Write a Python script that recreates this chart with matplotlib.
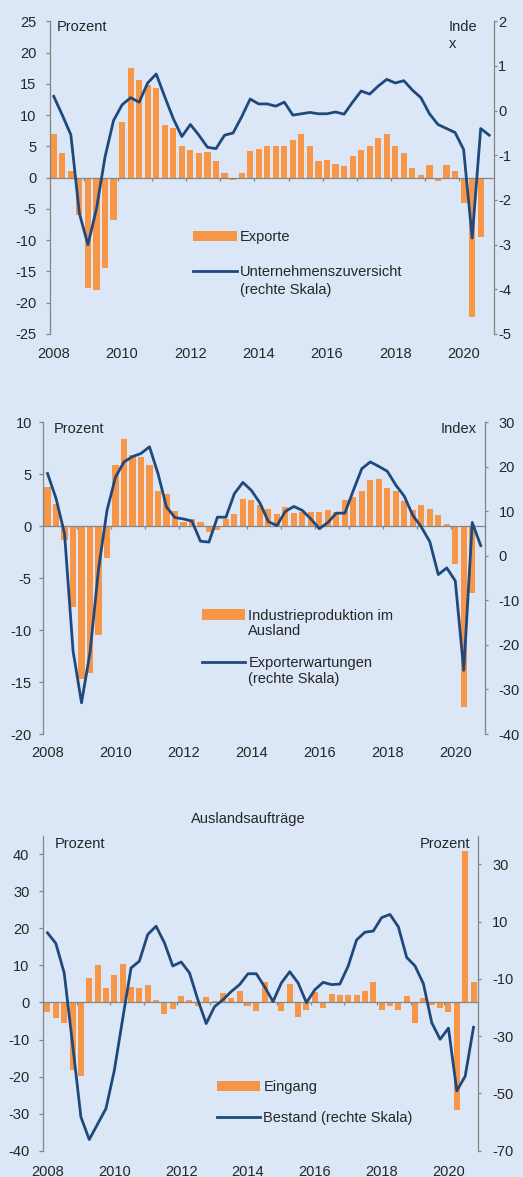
import numpy as np
import matplotlib
matplotlib.use('Agg')
import matplotlib.pyplot as plt
from matplotlib.lines import Line2D
from matplotlib.legend import Legend

plt.rcParams['font.family'] = ['Liberation Sans', 'DejaVu Sans']
plt.rcParams['axes.unicode_minus'] = False

W, H = 523, 1177
BG = '#dbe7f6'
ORANGE = '#f79646'
NAVY = '#1f497d'
GREY = '#868686'
TXT = '#262626'
FS = 10.5

# quarterly data, 2008 Q1 .. 2020 Q4 (52 quarters)
years = ['2008', '2010', '2012', '2014', '2016', '2018', '2020']

# panel 1: Exporte (%), Unternehmenszuversicht (index, right axis)
exporte = [7.0, 3.9, 1.0, -6.0, -17.6, -17.9, -14.5, -6.7, 8.9, 17.6,
           15.6, 14.8, 14.4, 8.4, 7.9, 5.1, 4.4, 3.9, 4.1, 2.7,
           0.7, -0.3, 0.8, 4.3, 4.6, 5.0, 5.1, 5.1, 6.0, 7.0,
           5.0, 2.7, 2.9, 2.2, 1.9, 3.4, 4.4, 5.0, 6.3, 7.0,
           5.1, 3.9, 1.6, 0.5, 2.0, -0.6, 2.0, 1.1, -4.0, -22.3,
           -9.5]
zuversicht = [0.32, -0.10, -0.54, -2.3, -3.0, -2.2, -1.04, -0.22, 0.13, 0.29,
              0.19, 0.62, 0.82, 0.31, -0.18, -0.58, -0.31, -0.55, -0.82, -0.85,
              -0.55, -0.50, -0.14, 0.26, 0.15, 0.15, 0.10, 0.19, -0.10, -0.07,
              -0.04, -0.07, -0.07, -0.03, -0.08, 0.19, 0.44, 0.37, 0.55, 0.70,
              0.62, 0.67, 0.46, 0.29, -0.07, -0.31, -0.40, -0.49, -0.87, -2.85,
              -0.40, -0.55]

# panel 2: Industrieproduktion im Ausland (%), Exporterwartungen (index)
ind_prod = [3.8, 2.1, -1.3, -7.8, -14.7, -14.1, -10.5, -3.1, 5.9, 8.4,
            6.9, 6.7, 5.9, 3.4, 3.1, 1.5, 0.4, 0.65, 0.4, -0.6,
            -0.4, 0.7, 1.2, 2.6, 2.5, 2.0, 1.7, 1.2, 1.8, 1.3,
            1.35, 1.35, 1.35, 1.6, 1.35, 2.5, 2.8, 3.35, 4.4, 4.5,
            3.7, 3.35, 2.4, 1.6, 2.0, 1.7, 1.1, 0.25, -3.6, -17.4,
            -6.4]
exp_erw = [18.5, 12.9, 5.0, -21.3, -33.0, -21.7, -3.0, 10.2, 17.7, 21.1,
           22.3, 23.0, 24.5, 18.5, 11.0, 8.6, 8.3, 7.8, 3.3, 3.1,
           8.7, 8.7, 14.0, 16.5, 14.7, 11.9, 7.7, 6.8, 10.0, 11.1,
           10.2, 8.3, 6.1, 7.5, 9.6, 9.6, 14.7, 19.6, 21.1, 20.1,
           19.0, 15.9, 13.4, 9.1, 6.5, 3.2, -4.2, -2.7, -5.6, -25.7,
           7.5, 2.3]

# panel 3: Auslandsauftraege Eingang (%), Bestand (%, right axis)
eingang = [-2.5, -4.1, -5.5, -18.1, -19.9, 6.6, 10.2, 3.8, 7.5, 10.4,
           4.3, 3.8, 4.7, 0.8, -3.2, -1.8, 1.7, 0.8, -1.0, 1.35,
           0.3, 2.6, 1.1, 3.1, -0.9, -2.3, 5.5, 0.3, -2.3, 5.1,
           -3.9, -2.0, 2.9, -1.6, 2.4, 2.0, 2.0, 2.0, 3.1, 5.5,
           -2.0, -1.0, -2.0, 1.7, -5.5, 1.3, -0.7, -1.4, -2.5, -29.0,
           41.0, 5.5]
bestand = [6.1, 2.4, -7.9, -32.7, -58.2, -66.1, -60.7, -55.3, -42.0, -24.0,
           -6.2, -3.8, 5.5, 8.4, 2.6, -5.5, -4.1, -7.9, -17.3, -25.6,
           -19.7, -17.3, -14.4, -12.0, -8.2, -8.2, -12.8, -17.9, -11.4, -7.5,
           -11.4, -18.3, -13.8, -11.2, -12.0, -11.8, -5.5, 3.6, 6.3, 6.7,
           11.4, 12.5, 8.2, -2.5, -5.5, -11.7, -25.3, -31.1, -27.2, -49.1,
           -44.0, -26.9]

N_Q = 52

fig = plt.figure(figsize=(W / 100, H / 100), dpi=100, facecolor=BG)


def px(x, y):
    return x / W, 1 - y / H


def panel(rect, bars, line, ylim_l, yt_l, ylim_r, yt_r, pads):
    l, t, r, b = rect
    ax = fig.add_axes([l / W, 1 - b / H, (r - l) / W, (b - t) / H])
    ax.patch.set_visible(False)
    bc = ax.bar(np.arange(len(bars)), bars, width=0.72, color=ORANGE,
                linewidth=0, zorder=1)
    ax.set_xlim(-0.5, N_Q - 0.5)
    ax.set_ylim(*ylim_l)
    ax.set_yticks(yt_l)
    for s in ('top', 'right'):
        ax.spines[s].set_visible(False)
    ax.spines['bottom'].set_position(('data', 0))
    for s in ('left', 'bottom'):
        ax.spines[s].set_color(GREY)
        ax.spines[s].set_linewidth(0.9)
    ax.set_xticks(np.arange(3.5, N_Q - 1, 4))
    ax.tick_params(axis='x', length=2.5, width=0.9, color=GREY,
                   labelbottom=False)
    ax.tick_params(axis='y', length=3, width=0.9, color=GREY, pad=pads[0],
                   labelsize=FS, labelcolor=TXT)
    sec = ax.secondary_xaxis('bottom')
    sec.set_xticks(np.arange(0, N_Q, 8), years)
    sec.tick_params(length=0, pad=pads[2], labelsize=FS, labelcolor=TXT)
    sec.spines['bottom'].set_visible(False)

    ax2 = ax.twinx()
    ln, = ax2.plot(np.arange(len(line)), line, color=NAVY, lw=2.0,
                   solid_joinstyle='round')
    ax2.set_ylim(*ylim_r)
    ax2.set_yticks(yt_r)
    for s in ('top', 'bottom', 'left'):
        ax2.spines[s].set_visible(False)
    ax2.spines['right'].set_color(GREY)
    ax2.spines['right'].set_linewidth(0.9)
    ax2.tick_params(axis='y', length=2.5, width=0.9, color=GREY, pad=pads[1],
                    labelsize=FS, labelcolor=TXT)
    return ax2, bc, ln


def entry(ax, handle, lines, x, y, spacing=0.3):
    # y = vertical centre of the first text line, in figure pixels
    hs = [handle] + [Line2D([], [], linestyle='none')] * (len(lines) - 1)
    leg = Legend(ax, hs, lines, loc='upper left',
                 bbox_to_anchor=px(x, y - 5.5), bbox_transform=fig.transFigure,
                 frameon=False, borderpad=0, borderaxespad=0,
                 handlelength=3.0, handletextpad=0.2, labelspacing=spacing,
                 fontsize=FS, labelcolor=TXT)
    ax.add_artist(leg)


def label(x, y, s, ha='left'):
    fig.text(*px(x, y), s, ha=ha, va='baseline', fontsize=FS, color=TXT)


# %% panel 1
a1, b1, l1 = panel((49.5, 21.3, 493.5, 334), exporte, zuversicht,
                   (-25, 25), np.arange(-25, 26, 5), (-5, 2), np.arange(-5, 3, 1),
                   (6.6, 1.0, 9.7))
label(56.7, 30.7, 'Prozent')
label(449, 30.7, 'Inde')
label(449, 48.3, 'x')
entry(a1, b1, ['Exporte'], 193, 235.5)
entry(a1, l1, ['Unternehmenszuversicht', '(rechte Skala)'], 193, 270.5, 0.3)

# %% panel 2
a2, b2, l2 = panel((43.3, 422.3, 485, 734), ind_prod, exp_erw,
                   (-20, 10), np.arange(-20, 11, 5), (-40, 30), np.arange(-40, 31, 10),
                   (5.3, 7.2, 8.9))
label(53.3, 433.3, 'Prozent')
label(476.7, 433.3, 'Index', ha='right')
entry(a2, b2, ['Industrieproduktion im', 'Ausland'], 201.7, 614, 0.12)
entry(a2, l2, ['Exporterwartungen', '(rechte Skala)'], 201.7, 662, 0.1)

# %% panel 3
a3, b3, l3 = panel((43.3, 835.7, 477.7, 1150.7), eingang, bestand,
                   (-40, 45), np.arange(-40, 41, 10), (-70, 40), np.arange(-70, 31, 20),
                   (7.0, 7.8, 10.1))
fig.text(*px(248.7, 823.3), 'Auslandsaufträge', ha='center', va='baseline',
         fontsize=FS, color=TXT)
label(55, 848.3, 'Prozent')
label(470, 848.3, 'Prozent', ha='right')
entry(a3, b3, ['Eingang'], 216.7, 1085.5)
entry(a3, l3, ['Bestand (rechte Skala)'], 216.7, 1116.7)

fig.savefig('out.png', dpi=100, facecolor=BG)
